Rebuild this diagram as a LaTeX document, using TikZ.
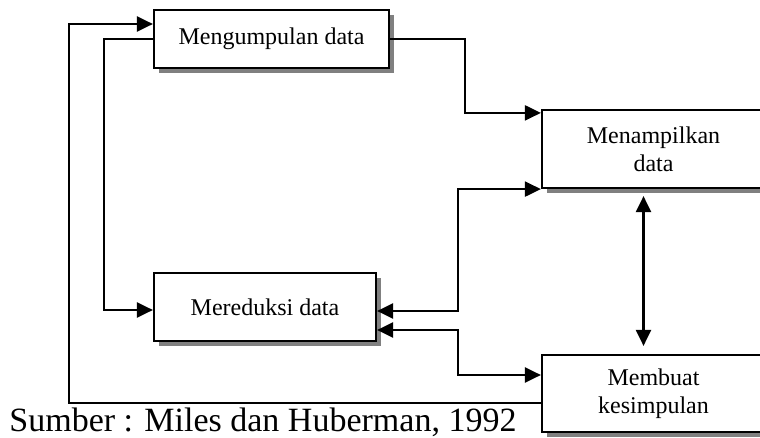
\documentclass[tikz,border=0pt]{standalone}
\usepackage{fontspec}
\setmainfont{Liberation Serif}
\usetikzlibrary{arrows.meta,shadows}

\begin{document}
\begin{tikzpicture}[x=0.5pt,y=-0.5pt,
    stage/.style={draw,line width=1.1pt,fill=white,align=center,
      font=\fontsize{12}{14}\selectfont,inner sep=0pt,
      drop shadow={shadow xshift=2.5pt,shadow yshift=-2.5pt,fill=black!50,opacity=1}},
    flow/.style={line width=1.1pt,-{Triangle[length=8pt,width=7.5pt]}},
    both/.style={line width=1.1pt,{Triangle[length=8pt,width=7.5pt]}-{Triangle[length=8pt,width=7.5pt]}}]
    % Page frame
    \clip (0,0) rectangle (760,438);

    % Stages
    \node[stage,minimum width=117.5pt,minimum height=29pt] (kumpul) at (271.5,39) {Mengumpulan data};
    \node[stage,minimum width=111.5pt,minimum height=39pt] (tampil) at (653.5,149) {Menampilkan\\data};
    \node[stage,minimum width=111pt,minimum height=34pt] (reduksi) at (265,307) {Mereduksi data};
    \node[stage,minimum width=111.5pt,minimum height=38.5pt] (simpul) at (653.5,393.5) {Membuat\\kesimpulan};

    % Connectors
    \draw[flow] (kumpul.east) -- (465,39) |- ([yshift=-2pt]tampil.north west);
    \draw[both] ([yshift=-2pt]reduksi.east) -- (458,311) |- (tampil.south west);
    \draw[both] ([yshift=-11.5pt]reduksi.east) -- (458,330) |- ([yshift=9.25pt]simpul.west);
    \draw[both] ([xshift=-5pt,yshift=-3.5pt]tampil.south) -- ([xshift=-5pt,yshift=4pt]simpul.north);
    \draw[flow] ([yshift=-4.75pt]simpul.west) -- (69,403) |- ([yshift=7.5pt]kumpul.west);
    \draw[flow] (kumpul.west) -- (104,39) |- ([yshift=-1.5pt]reduksi.west);

    % Source
    \node[anchor=base west,inner sep=0pt,font=\fontsize{17}{20}\selectfont] (sumber) at (9,431) {Sumber : Miles dan Huberman, 1992};
\end{tikzpicture}
\end{document}
